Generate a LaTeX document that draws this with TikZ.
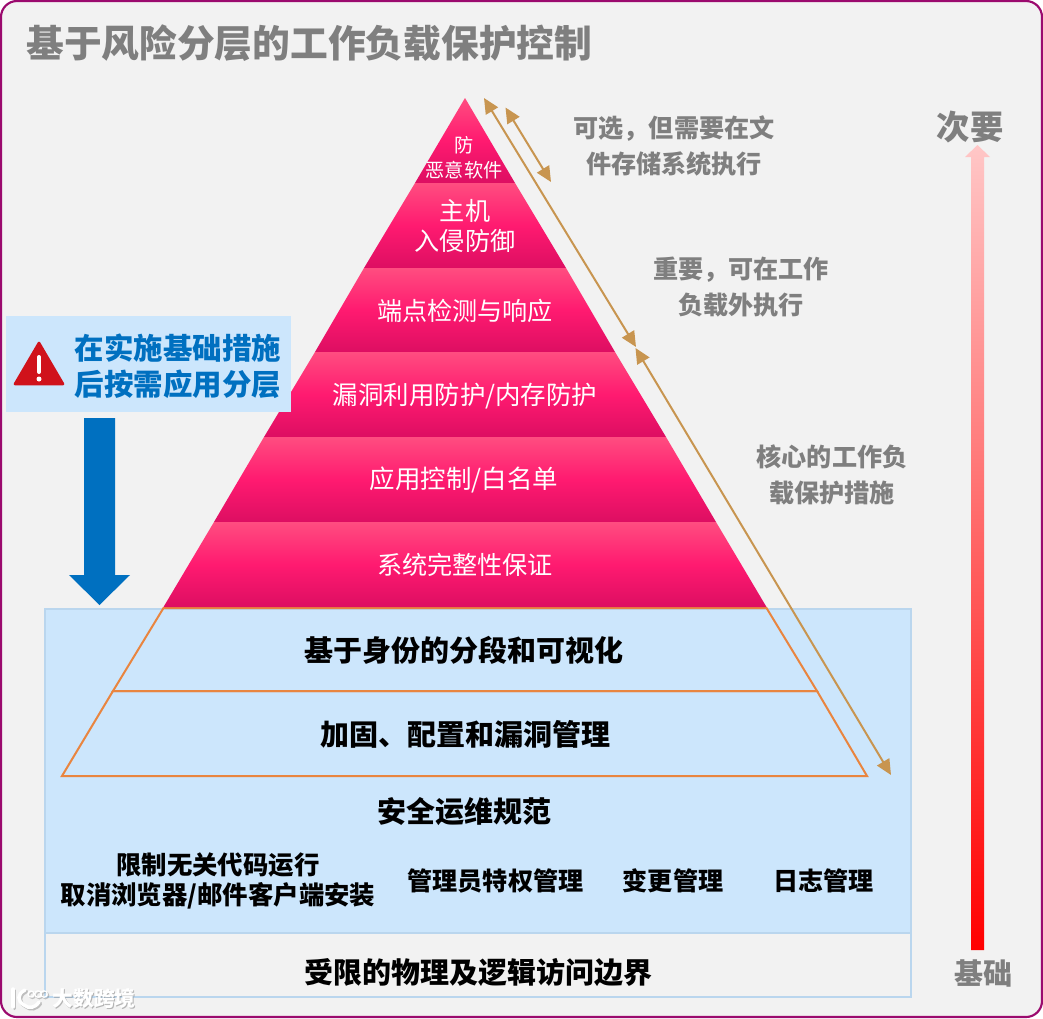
\documentclass[tikz,border=0pt]{standalone}
\usepackage{fontspec}
\setmainfont{Noto Sans CJK SC}
\usetikzlibrary{arrows.meta}
\definecolor{framec}{HTML}{9B0A6E}
\definecolor{bgc}{HTML}{F2F2F2}
\definecolor{paleblue}{HTML}{CCE6FC}
\definecolor{paleedge}{HTML}{BAD6EE}
\definecolor{orangec}{HTML}{E9853F}
\definecolor{tanc}{HTML}{C89550}
\definecolor{grayt}{HTML}{7F7F7F}
\definecolor{bluec}{HTML}{0070C0}
\definecolor{redc}{HTML}{D0121B}
\definecolor{pyrtop}{HTML}{FF4D80}
\definecolor{pyrmid}{HTML}{FF1A70}
\definecolor{pyrbot}{HTML}{DD0E62}
\tikzset{
  x=0.75pt,y=-0.75pt,
  layer/.style={top color=pyrtop,bottom color=pyrbot,middle color=pyrmid,draw=none},
  pyrtext/.style={text=white,inner sep=0pt,align=center,font=\fontsize{18.85}{22.5}\selectfont},
  blacktext/.style={text=black,inner sep=0pt,align=center,font=\fontsize{21.75}{26}\selectfont\bfseries},
  smalltext/.style={text=black,inner sep=0pt,align=center,font=\fontsize{18.85}{23}\selectfont\bfseries},
  graytext/.style={text=grayt,inner sep=0pt,align=center,font=\fontsize{18.85}{27}\selectfont\bfseries},
  trap/.style={draw=orangec,line width=1.5pt,line join=miter},
  dbl/.style={draw=tanc,line width=1.5pt,{Triangle[length=11.5pt,width=10.5pt]}-{Triangle[length=11.5pt,width=10.5pt]}},
}
\begin{document}
\begin{tikzpicture}
\useasboundingbox (0,0) rectangle (1043,1018);
\fill[white] (0,0) rectangle (1043,1018);
\draw[draw=framec,fill=bgc,line width=1.6pt,rounded corners=12pt] (1,1) rectangle (1042,1017);
% title
\node[anchor=west,text=grayt,inner sep=0pt,font=\fontsize{28.3}{32}\selectfont\bfseries] (title) at (26,43) {基于风险分层的工作负载保护控制};
% lower panels
\draw[fill=paleblue,draw=paleedge,line width=1.5pt] (45,609) rectangle (911,933);
\draw[draw=paleedge,line width=1.5pt] (45,933) rectangle (911,997);
% lower pyramid
\draw[trap] (163.5,608) -- (766.5,608) -- (817,691) -- (113,691) -- cycle;
\draw[trap] (113,691) -- (817,691) -- (867,776) -- (62,776) -- cycle;
% upper pyramid
\path[layer] (465,98) -- (515,183) -- (415,183) -- cycle;
\path[layer] (415,183) -- (515,183) -- (566,268) -- (364,268) -- cycle;
\path[layer] (364,268) -- (566,268) -- (615,352) -- (315,352) -- cycle;
\path[layer] (315,352) -- (615,352) -- (666,437) -- (264,437) -- cycle;
\path[layer] (264,437) -- (666,437) -- (716,522) -- (214,522) -- cycle;
\path[layer] (214,522) -- (716,522) -- (766.5,607) -- (163.5,607) -- cycle;
% pyramid text
\node[pyrtext,font=\fontsize{14.4}{18.5}\selectfont] (p1) at (464,158) {防\\恶意软件};
\node[pyrtext] (p2) at (465,226) {主机\\入侵防御};
\node[pyrtext] (p3) at (465,311) {端点检测与响应};
\node[pyrtext,font=\fontsize{19.1}{22.5}\selectfont] (p4) at (465,396) {漏洞利用防护/内存防护};
\node[pyrtext,font=\fontsize{19.1}{22.5}\selectfont] (p5) at (464,480) {应用控制/白名单};
\node[pyrtext] (p6) at (465,565) {系统完整性保证};
% foundation text
\node[blacktext] (f1) at (464,650) {基于身份的分段和可视化};
\node[blacktext] (f2) at (465,734.5) {加固、配置和漏洞管理};
\node[blacktext] (f3) at (464,811.5) {安全运维规范};
\node[smalltext,font=\fontsize{19.05}{23}\selectfont\bfseries] (f4) at (218,881) {限制无关代码运行\\取消浏览器/邮件客户端安装};
\node[smalltext] (f5) at (495.5,881) {管理员特权管理};
\node[smalltext] (f6) at (673,881) {变更管理};
\node[smalltext] (f7) at (823.5,881) {日志管理};
\node[blacktext] (f8) at (478,973) {受限的物理及逻辑访问边界};
% side labels
\node[graytext] (s1) at (674,146) {可选，但需要在文\\件存储系统执行};
\node[graytext] (s2) at (741,287.5) {重要，可在工作\\负载外执行};
\node[graytext] (s3) at (832,475) {核心的工作负\\载保护措施};
% tan arrows
\coordinate (a1) at (484,98);
\coordinate (a2) at (636,347);
\coordinate (b1) at (505.5,107.5);
\coordinate (b2) at (551,182);
\coordinate (c1) at (635.5,348);
\coordinate (c2) at (891,775);
\draw[dbl] (a1) -- (a2);
\draw[dbl] (b1) -- (b2);
\draw[dbl] (c1) -- (c2);
% callout
\fill[paleblue] (6,316) rectangle (291,412);
\fill[redc,draw=redc,line width=2pt,line join=round] (39,343) -- (63,384) -- (15,384) -- cycle;
\draw[white,line width=3pt,line cap=round] (39,357) -- (39,372);
\fill[white] (39,379) circle (2.5);
\node[text=bluec,inner sep=0pt,align=center,font=\fontsize{22.1}{27}\selectfont\bfseries] (call) at (178,366.5) {在实施基础措施\\后按需应用分层};
% blue arrow
\fill[bluec] (84,418) -- (115,418) -- (115,575) -- (130,575) -- (99.5,605) -- (69,575) -- (84,575) -- cycle;
% right arrow
\path[top color=red!22!white,bottom color=red,draw=none] (971,950) -- (971,157) -- (965,157) -- (977.5,145) -- (990,157) -- (984,157) -- (984,950) -- cycle;
\node[text=grayt,inner sep=0pt,font=\fontsize{25}{30}\selectfont\bfseries] (top) at (970,127) {次要};
\node[text=grayt,inner sep=0pt,font=\fontsize{21.75}{26}\selectfont\bfseries] (base) at (983,973) {基础};
% watermark
\begin{scope}[line cap=round]
\foreach \dx/\col/\op in {1.5/gray/0.45,0/white/1}{
\begin{scope}[shift={(\dx,\dx)},draw=\col,opacity=\op]
\draw[line width=2.6pt] (13,989) -- (13,1007);
\draw[line width=2.6pt] (25,990) .. controls (17,994) and (17,1001) .. (24,1005) .. controls (29,1009) and (35,1008) .. (39,1002);
\draw[line width=0.9pt] (31,994) circle (3) (38,994) circle (3.2) (44,994) circle (3.2);
\end{scope}}
\end{scope}
\node[text=gray,opacity=0.55,inner sep=0pt,font=\fontsize{15.6}{18}\selectfont\bfseries] (wm2) at (95,1000) {大数跨境};
\node[text=white,inner sep=0pt,font=\fontsize{15.6}{18}\selectfont\bfseries] (wm) at (94,999) {大数跨境};
\end{tikzpicture}
\end{document}
